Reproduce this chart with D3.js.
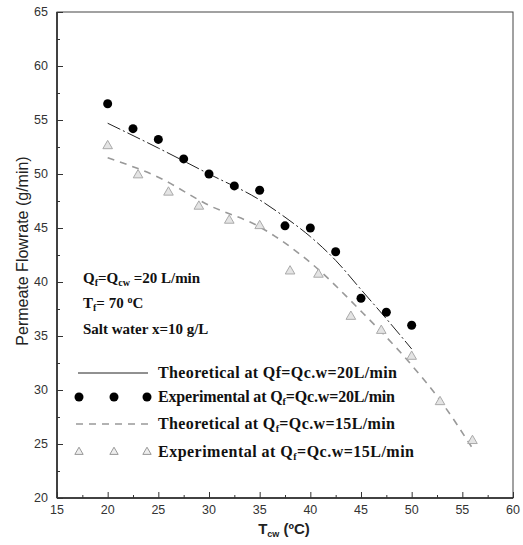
<!DOCTYPE html>
<html>
<head>
<meta charset="utf-8">
<script src="https://cdn.jsdelivr.net/npm/d3@7"></script>
<style>
  body { margin: 0; background: #fff; }
  svg { display: block; }
</style>
</head>
<body>
<div id="chart"></div>
<script>
// ---- data ----
var expT20 = [20, 22.5, 25, 27.5, 30, 32.5, 35, 37.5, 40, 42.5, 45, 47.5, 50];
var expF20 = [56.5, 54.2, 53.2, 51.4, 50.0, 48.9, 48.5, 45.2, 45.0, 42.8, 38.5, 37.2, 36.0];

var expT15 = [20, 23, 26, 29, 32, 35, 38, 40.8, 44, 47, 50, 52.8, 56];
var expF15 = [52.6, 49.9, 48.3, 47.0, 45.7, 45.2, 41.0, 40.7, 36.8, 35.5, 33.1, 28.9, 25.3];

var thT20 = [20, 25, 30, 35, 37.5, 40, 42.5, 45, 47.5, 50];
var thF20 = [54.7, 52.4, 50.0, 47.6, 46.0, 44.2, 42.0, 39.3, 36.6, 33.8];

var thT15 = [20, 25, 30, 35, 40, 45, 50, 53, 56];
var thF15 = [51.5, 49.7, 47.1, 45.1, 41.8, 37.3, 32.3, 28.8, 24.6];

var xTicks = [15, 20, 25, 30, 35, 40, 45, 50, 55, 60];
var yTicks = [20, 25, 30, 35, 40, 45, 50, 55, 60, 65];

var W = 523, H = 545;
var svg = d3.select("#chart").append("svg")
    .attr("width", W).attr("height", H);

var x = d3.scaleLinear().domain([15, 60]).range([57, 513]);
var y = d3.scaleLinear().domain([20, 65]).range([498, 12]);

function zip(a, b) { return a.map(function (v, i) { return [v, b[i]]; }); }

// frame
svg.append("rect")
    .attr("x", x(15)).attr("y", y(65))
    .attr("width", x(60) - x(15)).attr("height", y(20) - y(65))
    .attr("fill", "none").attr("stroke", "#444").attr("stroke-width", 1);
svg.append("line")
    .attr("x1", x(15)).attr("x2", x(15)).attr("y1", y(65)).attr("y2", y(20))
    .attr("stroke", "#222").attr("stroke-width", 1.5);
svg.append("line")
    .attr("x1", x(15)).attr("x2", x(60)).attr("y1", y(20)).attr("y2", y(20))
    .attr("stroke", "#222").attr("stroke-width", 1.5);

// axes (ticks inward)
var xAxis = d3.axisTop(x).tickValues(xTicks).tickSize(6).tickFormat("");
var xMinor = d3.axisTop(x).tickValues(d3.range(17.5, 60, 5)).tickSize(3).tickFormat("");
var yAxis = d3.axisRight(y).tickValues(yTicks).tickSize(6).tickFormat("");
var yMinor = d3.axisRight(y).tickValues(d3.range(22.5, 65, 5)).tickSize(3).tickFormat("");

[xAxis, xMinor].forEach(function (a) {
  var g = svg.append("g").attr("transform", "translate(0," + y(20) + ")").call(a);
  g.select(".domain").remove();
  g.selectAll("line").attr("stroke", "#333");
});
[yAxis, yMinor].forEach(function (a) {
  var g = svg.append("g").attr("transform", "translate(" + x(15) + ",0)").call(a);
  g.select(".domain").remove();
  g.selectAll("line").attr("stroke", "#333");
});

// tick labels
svg.selectAll(".xlab").data(xTicks).enter().append("text")
    .attr("x", function (d) { return x(d); })
    .attr("y", y(20) + 16)
    .attr("text-anchor", "middle")
    .attr("font-family", "Liberation Sans, Arial, sans-serif")
    .attr("font-size", 12.5).attr("fill", "#333")
    .text(function (d) { return d; });
svg.selectAll(".ylab").data(yTicks).enter().append("text")
    .attr("x", x(15) - 9)
    .attr("y", function (d) { return y(d) + 4; })
    .attr("text-anchor", "end")
    .attr("font-family", "Liberation Sans, Arial, sans-serif")
    .attr("font-size", 12.5).attr("fill", "#333")
    .text(function (d) { return d; });

// axis titles
svg.append("text")
    .attr("transform", "translate(28,251) rotate(-90)")
    .attr("text-anchor", "middle")
    .attr("font-family", "Liberation Sans, Arial, sans-serif")
    .attr("font-size", 16).attr("fill", "#222")
    .text("Permeate Flowrate (g/min)");

var xt = svg.append("text")
    .attr("x", 284).attr("y", 534)
    .attr("text-anchor", "middle")
    .attr("font-family", "Liberation Sans, Arial, sans-serif")
    .attr("font-size", 15).attr("font-weight", "bold").attr("fill", "#222");
xt.append("tspan").text("T");
xt.append("tspan").attr("font-size", 9).attr("dy", 3).text("cw");
xt.append("tspan").attr("dy", -3).text(" (\u00BAC)");

// theoretical curves
var line = d3.line()
    .x(function (d) { return x(d[0]); })
    .y(function (d) { return y(d[1]); })
    .curve(d3.curveMonotoneX);

svg.append("path").datum(zip(thT20, thF20))
    .attr("d", line).attr("fill", "none")
    .attr("stroke", "#222").attr("stroke-width", 1)
    .attr("stroke-dasharray", "14,3,2,3");
svg.append("path").datum(zip(thT15, thF15))
    .attr("d", line).attr("fill", "none")
    .attr("stroke", "#999").attr("stroke-width", 1.6)
    .attr("stroke-dasharray", "7,6");

// experimental points
svg.selectAll(".dot").data(zip(expT20, expF20)).enter().append("circle")
    .attr("cx", function (d) { return x(d[0]); })
    .attr("cy", function (d) { return y(d[1]); })
    .attr("r", 4.5).attr("fill", "#000");

var tri = d3.symbol().type(d3.symbolTriangle).size(40);
svg.selectAll(".tri").data(zip(expT15, expF15)).enter().append("path")
    .attr("d", tri)
    .attr("transform", function (d) { return "translate(" + x(d[0]) + "," + y(d[1]) + ")"; })
    .attr("fill", "#e4e4e4").attr("stroke", "#aaa").attr("stroke-width", 1);

// annotation
var serif = "Liberation Serif, Times New Roman, serif";
var a1 = svg.append("text").attr("x", 83).attr("y", 283)
    .attr("font-family", serif).attr("font-size", 15).attr("font-weight", "bold").attr("fill", "#111");
a1.append("tspan").text("Q");
a1.append("tspan").attr("font-size", 10).attr("dy", 3).text("f");
a1.append("tspan").attr("dy", -3).text("=Q");
a1.append("tspan").attr("font-size", 10).attr("dy", 3).text("cw");
a1.append("tspan").attr("dy", -3).text(" =20 L/min");

var a2 = svg.append("text").attr("x", 83).attr("y", 308)
    .attr("font-family", serif).attr("font-size", 15).attr("font-weight", "bold").attr("fill", "#111");
a2.append("tspan").text("T");
a2.append("tspan").attr("font-size", 10).attr("dy", 3).text("f");
a2.append("tspan").attr("dy", -3).text("= 70 ");
a2.append("tspan").attr("font-size", 10).attr("dy", -5).text("o");
a2.append("tspan").attr("dy", 5).text("C");

svg.append("text").attr("x", 83).attr("y", 334)
    .attr("font-family", serif).attr("font-size", 15).attr("font-weight", "bold").attr("fill", "#111")
    .text("Salt water x=10 g/L");

// legend
var legY = [373, 397, 424, 452];
var legLen = [239, 237, 237, 256];
var legTxt = [
  ["Theoretical at Qf=Qc.w=20L/min", false],
  ["Experimental at Q", true, "=Qc.w=20L/min"],
  ["Theoretical at Q", true, "=Qc.w=15L/min"],
  ["Experimental at Q", true, "=Qc.w=15L/min"]
];

svg.append("line").attr("x1", 78).attr("x2", 148).attr("y1", legY[0]).attr("y2", legY[0])
    .attr("stroke", "#222").attr("stroke-width", 1);
svg.selectAll(".ldot").data([79, 114, 147]).enter().append("circle")
    .attr("cx", function (d) { return d; }).attr("cy", legY[1]).attr("r", 4.5).attr("fill", "#000");
svg.append("line").attr("x1", 76).attr("x2", 148).attr("y1", legY[2]).attr("y2", legY[2])
    .attr("stroke", "#999").attr("stroke-width", 1.6).attr("stroke-dasharray", "7,6");
svg.selectAll(".ltri").data([79, 114, 147]).enter().append("path")
    .attr("d", d3.symbol().type(d3.symbolTriangle).size(30))
    .attr("transform", function (d) { return "translate(" + d + "," + legY[3] + ")"; })
    .attr("fill", "#eee").attr("stroke", "#999").attr("stroke-width", 1);

legTxt.forEach(function (t, i) {
  var tx = svg.append("text").attr("x", 158).attr("y", legY[i] + 5)
      .attr("font-family", serif).attr("font-size", 16).attr("font-weight", "bold").attr("fill", "#111")
      .attr("textLength", legLen[i]).attr("lengthAdjust", "spacing");
  if (!t[1]) { tx.text(t[0]); return; }
  tx.append("tspan").text(t[0]);
  tx.append("tspan").attr("font-size", 10).attr("dy", 3).text("f");
  tx.append("tspan").attr("dy", -3).text(t[2]);
});
</script>
</body>
</html>
